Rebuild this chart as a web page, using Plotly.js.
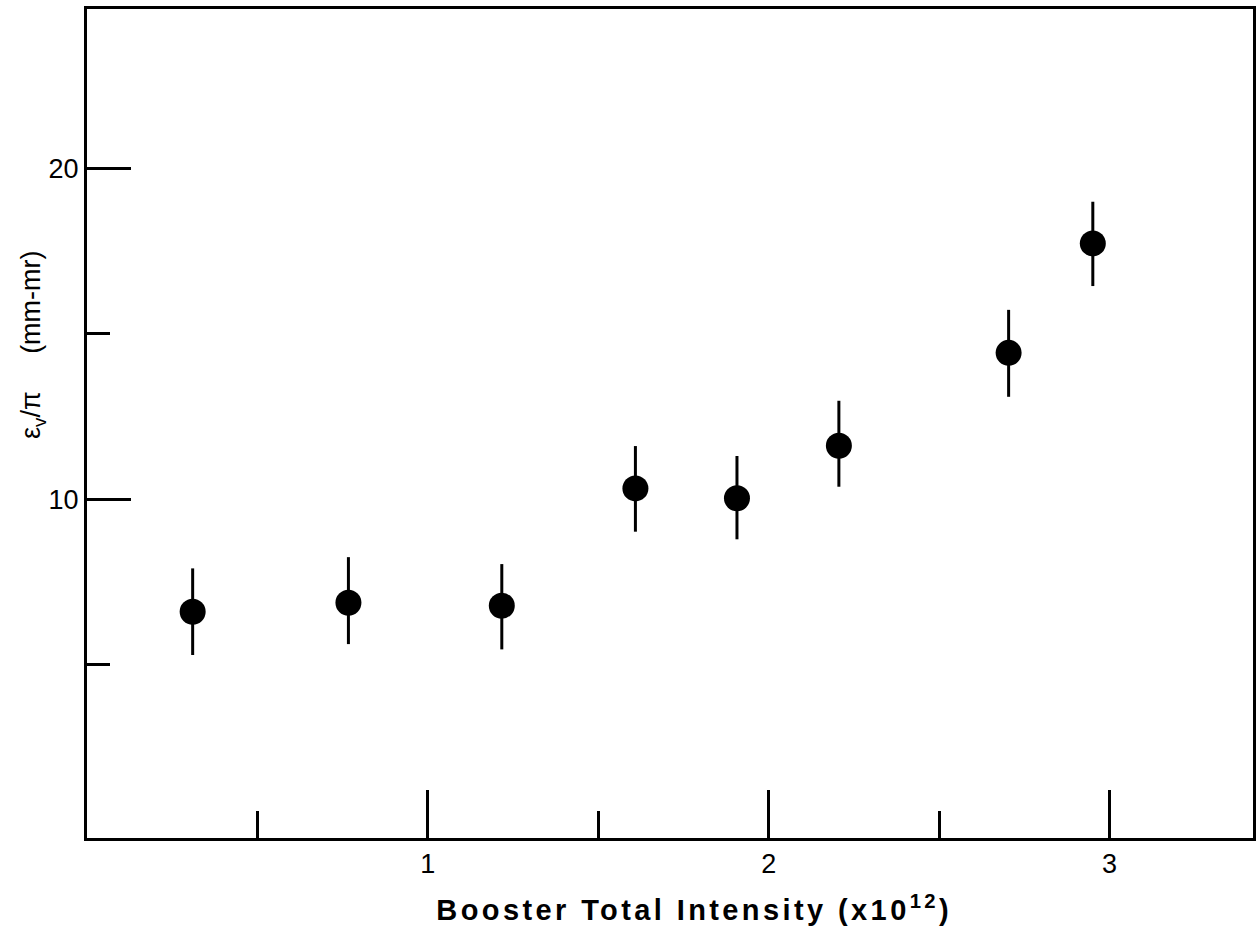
<!DOCTYPE html>
<html>
<head>
<meta charset="utf-8">
<script src="https://cdn.plot.ly/plotly-3.0.1.min.js"></script>
<style>
  html, body { margin: 0; padding: 0; background: #fff; }
  #chart { width: 1257px; height: 926px; }
  g.annotation[data-index="1"] text { letter-spacing: 3.4px; }
</style>
</head>
<body>
<div id="chart"></div>
<script>
// Booster total intensity (x10^12)
const intensity = [0.310, 0.767, 1.217, 1.609, 1.907, 2.206, 2.704, 2.951];
// Vertical emittance eps_v / pi (mm-mr)
const emittance = [6.60, 6.87, 6.78, 10.33, 10.03, 11.62, 14.43, 17.74];
const errPlus  = [1.31, 1.38, 1.26, 1.28, 1.28, 1.36, 1.30, 1.26];
const errMinus = [1.31, 1.25, 1.32, 1.31, 1.24, 1.24, 1.33, 1.29];

const xMajorTicks = [1, 2, 3];
const xMinorTicks = [0.5, 1.5, 2.5];
const yMajorTicks = [10, 20];
const yMinorTicks = [5, 15];

const xTitle = 'Booster Total Intensity (x10<sup>12</sup>)';
const yTitle = '\u03B5<sub>v</sub>/\u03C0\u00A0\u00A0\u00A0\u00A0\u00A0(mm-mr)';

const trace = {
  x: intensity,
  y: emittance,
  mode: 'markers',
  type: 'scatter',
  marker: { color: '#000', size: 26 },
  error_y: {
    type: 'data', symmetric: false,
    array: errPlus, arrayminus: errMinus,
    color: '#000', thickness: 3, width: 0
  },
  hoverinfo: 'none'
};

const layout = {
  width: 1257, height: 926,
  margin: { l: 87, r: 4, t: 9, b: 88 },
  paper_bgcolor: '#fff', plot_bgcolor: '#fff',
  showlegend: false,
  font: { family: 'Liberation Sans, Arial, sans-serif', color: '#000', size: 20 },
  xaxis: {
    range: [0, 3.421],
    showgrid: false, zeroline: false,
    showline: true, linecolor: '#000', linewidth: 3, mirror: true,
    tickmode: 'array', tickvals: xMajorTicks, ticktext: xMajorTicks.map(String),
    ticks: 'inside', ticklen: 48, tickwidth: 3, tickcolor: '#000',
    tickfont: { family: 'Liberation Sans, Arial, sans-serif', size: 27, color: '#000' },
    minor: { tickmode: 'array', tickvals: xMinorTicks, ticks: 'inside', ticklen: 27, tickwidth: 3, tickcolor: '#000', showgrid: false }
  },
  yaxis: {
    range: [-0.245, 24.83],
    showgrid: false, zeroline: false,
    showline: true, linecolor: '#000', linewidth: 3, mirror: true,
    tickmode: 'array', tickvals: yMajorTicks, ticktext: yMajorTicks.map(String),
    ticks: 'inside', ticklen: 44, tickwidth: 3, tickcolor: '#000',
    tickfont: { family: 'Liberation Sans, Arial, sans-serif', size: 27, color: '#000' },
    minor: { tickmode: 'array', tickvals: yMinorTicks, ticks: 'inside', ticklen: 23, tickwidth: 3, tickcolor: '#000', showgrid: false }
  },
  annotations: [{
    text: yTitle,
    xref: 'paper', yref: 'paper',
    x: -0.0463, y: 0.5947,
    xanchor: 'center', yanchor: 'middle',
    textangle: -90, showarrow: false,
    font: { family: 'Liberation Sans, Arial, sans-serif', size: 27, color: '#000' }
  }, {
    text: xTitle,
    xref: 'paper', yref: 'paper',
    x: 0.5206, y: -0.0844,
    xanchor: 'center', yanchor: 'middle',
    showarrow: false,
    font: { family: 'Liberation Sans, Arial, sans-serif', size: 29, weight: 'bold', color: '#000' }
  }]
};

Plotly.newPlot('chart', [trace], layout, { displayModeBar: false, staticPlot: true });
</script>
</body>
</html>
